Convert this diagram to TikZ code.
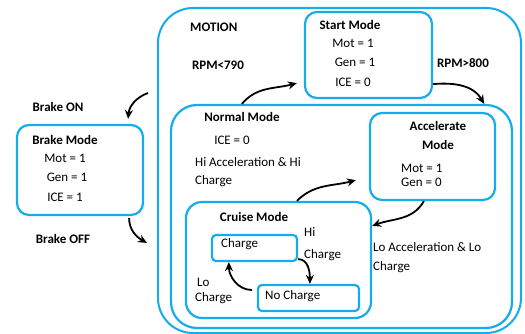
\documentclass[tikz,border=0pt]{standalone}
\usepackage{fontspec}
\setmainfont{Carlito}
\usetikzlibrary{arrows.meta}
\definecolor{stateblue}{RGB}{20,172,236}

\begin{document}
\begin{tikzpicture}[x=1pt, y=1pt,
        modebox/.style={draw=stateblue, line width=2.2pt, rounded corners=12pt, inner sep=0pt},
        flow/.style={-{Stealth[length=9pt, width=8pt]}, line width=1.8pt},
        lbl/.style={font=\fontsize{13}{15}\selectfont, inner sep=0pt},
        head/.style={lbl, font=\fontsize{13}{15}\selectfont\bfseries}]
    \useasboundingbox (0,0) rectangle (525,333);
    % boxes
    \node[modebox, rounded corners=35pt, line width=2pt, minimum width=363pt, minimum height=325pt] (motion) at (339.5,162.5) {};
    \node[modebox, rounded corners=26pt, minimum width=341pt, minimum height=223pt] (normal) at (341.5,116.5) {};
    \node[modebox, minimum width=127pt, minimum height=86pt] (start) at (368.5,278) {};
    \node[modebox, minimum width=125pt, minimum height=87pt] (accel) at (432.5,176.5) {};
    \node[modebox, rounded corners=16pt, minimum width=185pt, minimum height=116pt] (cruise) at (278.5,73) {};
    \node[modebox, rounded corners=4pt, minimum width=85pt, minimum height=26pt] (charge) at (254.5,85) {};
    \node[modebox, rounded corners=4pt, minimum width=101pt, minimum height=26pt] (nocharge) at (308.5,35) {};
    \node[modebox, minimum width=126pt, minimum height=90pt] (brake) at (80,163) {};
    % labels
    \node[head, anchor=west] (motiontitle) at (190,306) {MOTION};
    \node[head] (starttitle) at (350,308) {Start Mode};
    \node[lbl] (startmot) at (353,290) {Mot = 1};
    \node[lbl] (startgen) at (355,271) {Gen = 1};
    \node[lbl] (startice) at (353,251) {ICE = 0};
    \node[head] (rpmlow) at (218,268) {RPM<790};
    \node[head] (rpmhigh) at (463,270) {RPM>800};
    \node[head] (normaltitle) at (242,216) {Normal Mode};
    \node[lbl] (normalice) at (232,193) {ICE = 0};
    \node[lbl, anchor=west, align=left, font=\fontsize{13}{18}\selectfont] (hicond) at (195,161) {Hi Acceleration \& Hi\\Charge};
    \node[head, align=center, font=\fontsize{13}{19}\selectfont\bfseries] (acceltitle) at (438,197.5) {Accelerate\\Mode};
    \node[lbl, anchor=west, align=left, font=\fontsize{13}{14}\selectfont] (accelvals) at (401,158) {Mot = 1\\Gen = 0};
    \node[lbl, anchor=west, align=left, font=\fontsize{13}{19}\selectfont] (locond) at (373,75.5) {Lo Acceleration \& Lo\\Charge};
    \node[head] (cruisetitle) at (254,116) {Cruise Mode};
    \node[lbl, anchor=west] (chargetext) at (221,89) {Charge};
    \node[lbl, anchor=west, align=left, font=\fontsize{13}{22}\selectfont] (hicharge) at (304,89) {Hi\\Charge};
    \node[lbl, anchor=west, align=left, font=\fontsize{13}{15}\selectfont] (locharge) at (195,42.5) {\hspace{2pt}Lo\\Charge};
    \node[lbl, anchor=west] (nochargetext) at (265,37) {No Charge};
    \node[head] (brakeon) at (58,226) {Brake ON};
    \node[head] (braketitle) at (65,193) {Brake Mode};
    \node[lbl] (brakemot) at (65,175) {Mot = 1};
    \node[lbl] (brakegen) at (67,156) {Gen = 1};
    \node[lbl] (brakeice) at (65,136) {ICE = 1};
    \node[head] (brakeoff) at (63,94) {Brake OFF};
    % transitions
    \coordinate (onpt) at (148,240);
    \coordinate (offpt) at (147,90);
    \draw[flow] ([xshift=72pt]normal.north west) to[out=50, in=195] ([shift={(-7,16)}]start.south west);
    \draw[flow] ([yshift=15pt]start.south east) to[out=5, in=120] ([xshift=-29pt]normal.north east);
    \draw[flow] ([xshift=112pt]cruise.north west) to[out=45, in=195] ([shift={(-13,21)}]accel.south west);
    \draw[flow] ([xshift=55pt]accel.south west) to[out=240, in=20] ([yshift=-25pt]cruise.north east);
    \draw[flow] ([yshift=3pt]charge.south east) to[out=0, in=90] ([xshift=53pt]nocharge.north west);
    \draw[flow] ([shift={(-5,8)}]nocharge.west) to[out=180, in=270] ([xshift=18pt]charge.south west);
    \draw[flow] (onpt) to[out=200, in=85] ([shift={(-16,5)}]brake.north east);
    \draw[flow] ([shift={(-15,-2)}]brake.south east) to[out=270, in=150] (offpt);
\end{tikzpicture}
\end{document}
